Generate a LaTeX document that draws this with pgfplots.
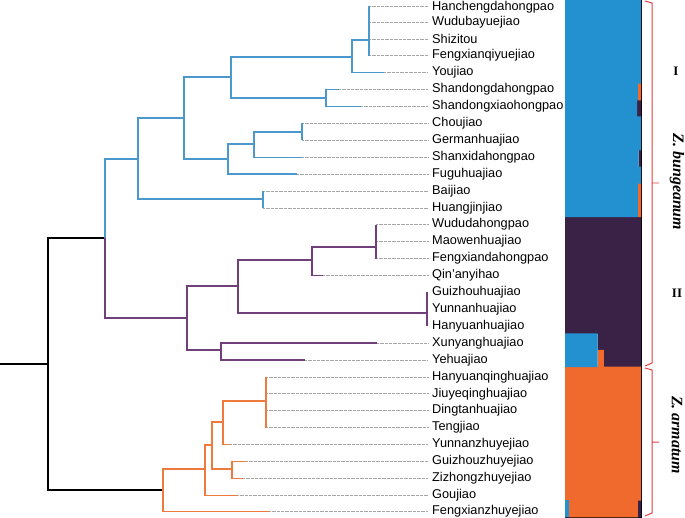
\documentclass[border=0pt]{standalone}
\usepackage{pgfplots}
\usepackage{pgfplotstable}
\pgfplotsset{compat=1.18}
\usepackage{fontspec}
\setmainfont{Liberation Sans}
\newfontfamily\serif{Liberation Serif}
\definecolor{tblue}{RGB}{74,152,204}
\definecolor{tpurple}{RGB}{112,64,122}
\definecolor{torange}{RGB}{238,122,62}
\definecolor{sblue}{RGB}{35,144,208}
\definecolor{spurple}{RGB}{57,34,70}
\definecolor{sorange}{RGB}{240,106,46}
\definecolor{bred}{RGB}{228,60,60}

\pgfplotstableread{
x y label
432 7.4 Hanchengdahongpao
432 21.9 Wudubayuejiao
432 38.8 Shizitou
432 55.7 Fengxianqiyuejiao
432 72.6 Youjiao
432 89.5 Shandongdahongpao
432 106.4 Shandongxiaohongpao
432 123.3 Choujiao
432 140.2 Germanhuajiao
432 157.1 Shanxidahongpao
432 174 Fuguhuajiao
432 190.9 Baijiao
432 207.8 Huangjinjiao
432 224.7 Wududahongpao
432 241.6 Maowenhuajiao
432 258.5 Fengxiandahongpao
432 275.4 Qin'anyihao
432 292.3 Guizhouhuajiao
432 309.2 Yunnanhuajiao
432 326.1 Hanyuanhuajiao
432 343 Xunyanghuajiao
432 359.9 Yehuajiao
432 376.8 Hanyuanqinghuajiao
432 393.7 Jiuyeqinghuajiao
432 410.6 Dingtanhuajiao
432 427.5 Tengjiao
432 444.4 Yunnanzhuyejiao
432 461.3 Guizhouzhuyejiao
432 478.2 Zizhongzhuyejiao
432 495.1 Goujiao
432 510.8 Fengxianzhuyejiao
}\leaves

\pgfplotstableread{
r b o p
0 1 0 0
1 1 0 0
2 1 0 0
3 1 0 0
4 1 0 0
5 0.96 0.04 0
6 0.95 0 0.05
7 1 0 0
8 1 0 0
9 0.97 0 0.03
10 1 0 0
11 0.96 0.04 0
12 0.96 0.04 0
13 0 0 1
14 0 0 1
15 0 0 1
16 0 0 1
17 0 0 1
18 0 0 1
19 0 0 1
20 0.43 0 0.57
21 0.43 0.08 0.49
22 0 1 0
23 0 1 0
24 0 1 0
25 0 1 0
26 0 1 0
27 0 1 0
28 0 1 0
29 0 1 0
30 0.05 0.91 0.04
}\structdata

\begin{document}
\begin{tikzpicture}
\useasboundingbox (0,0) rectangle (685bp,518bp);
\begin{axis}[at={(0,0)}, anchor=south west, width=685bp, height=518bp, scale only axis,
  xmin=0, xmax=685, ymin=0, ymax=518, y dir=reverse, hide axis, clip=false,
  unbounded coords=jump]
% dotted leader lines
\addplot[gray!70, line width=0.5pt, dash pattern=on 0.5pt off 0.8pt] coordinates {
(369,6.5) (428,6.5) (nan,nan)
(369,21.9) (428,21.9) (nan,nan)
(369,38.8) (428,38.8) (nan,nan)
(369,55.7) (428,55.7) (nan,nan)
(384,72.6) (428,72.6) (nan,nan)
(339,89.5) (428,89.5) (nan,nan)
(361,106.4) (428,106.4) (nan,nan)
(302,123.3) (428,123.3) (nan,nan)
(302,140.2) (428,140.2) (nan,nan)
(302,157.1) (428,157.1) (nan,nan)
(297,174) (428,174) (nan,nan)
(263,190.9) (428,190.9) (nan,nan)
(263,207.8) (428,207.8) (nan,nan)
(376,224.7) (428,224.7) (nan,nan)
(376,241.6) (428,241.6) (nan,nan)
(376,258.5) (428,258.5) (nan,nan)
(323,275.4) (428,275.4) (nan,nan)
(377,343) (428,343) (nan,nan)
(305,359.9) (428,359.9) (nan,nan)
(266,376.8) (428,376.8) (nan,nan)
(266,393.7) (428,393.7) (nan,nan)
(266,410.6) (428,410.6) (nan,nan)
(266,427.5) (428,427.5) (nan,nan)
(230,444.4) (428,444.4) (nan,nan)
(246,461.3) (428,461.3) (nan,nan)
(243,478.2) (428,478.2) (nan,nan)
(237,495.1) (428,495.1) (nan,nan)
(269,511.5) (428,511.5)
};
% black root
\addplot[black, line width=1.2pt] coordinates {
(105,238) (48,238) (48,490) (163,490) (nan,nan)
(0,364) (48,364)
};
% blue clade
\addplot[tblue, line width=1.2pt] coordinates {
(369,6.5) (369,55.7) (nan,nan)
(369,40) (352,40) (352,72.6) (384,72.6) (nan,nan)
(339,89.5) (326,89.5) (326,106.4) (361,106.4) (nan,nan)
(352,57) (231,57) (231,98) (326,98) (nan,nan)
(302,123.3) (302,140.2) (nan,nan)
(302,132) (254,132) (254,157.1) (302,157.1) (nan,nan)
(254,144) (228,144) (228,174) (297,174) (nan,nan)
(231,77) (184,77) (184,159) (228,159) (nan,nan)
(263,190.9) (263,207.8) (nan,nan)
(184,118) (138,118) (138,199) (263,199) (nan,nan)
(138,159) (105,159) (105,238)
};
% purple clade
\addplot[tpurple, line width=1.2pt] coordinates {
(376,224.7) (376,258.5) (nan,nan)
(376,247) (312,247) (312,275.4) (323,275.4) (nan,nan)
(427,292.3) (427,326.1) (nan,nan)
(312,260) (238,260) (238,313) (427,313) (nan,nan)
(377,343) (221,343) (221,359.9) (305,359.9) (nan,nan)
(238,286) (187,286) (187,350) (221,350) (nan,nan)
(105,238) (105,318) (187,318)
};
% orange clade
\addplot[torange, line width=1.2pt] coordinates {
(266,376.8) (266,427.5) (nan,nan)
(266,401) (223,401) (223,444.4) (230,444.4) (nan,nan)
(246,461.3) (232,461.3) (232,478.2) (243,478.2) (nan,nan)
(223,422) (212,422) (212,469) (232,469) (nan,nan)
(212,445) (205,445) (205,495.1) (237,495.1) (nan,nan)
(205,469) (163,469) (163,511.5) (269,511.5)
};
% leaf labels
\addplot[draw=none, nodes near coords, point meta=explicit symbolic,
  nodes near coords style={anchor=west, inner sep=0pt, text=black,
  font=\fontsize{12.8}{14}\selectfont}] table[x=x, y=y, meta=label] {\leaves};
% brackets
\addplot[bred, line width=1pt] coordinates {
(645,1) (652,3) (652,363) (645,366) (nan,nan)
(652,183) (659,183) (nan,nan)
(645,368) (652,370) (652,513) (645,516) (nan,nan)
(652,442) (659,442)
};
\node[font=\serif\bfseries\fontsize{13}{15}\selectfont] at (axis cs:676,71) {I};
\node[font=\serif\bfseries\fontsize{13}{15}\selectfont] at (axis cs:677,293) {II};
\node[rotate=-90, font=\serif\bfseries\itshape\fontsize{16}{18}\selectfont] at (axis cs:677,182) {Z. bungeanum};
\node[rotate=-90, font=\serif\bfseries\itshape\fontsize{16}{18}\selectfont] at (axis cs:677,435) {Z. armatum};
\end{axis}

\begin{axis}[at={(565bp,1bp)}, anchor=south west, width=76bp, height=517bp, scale only axis,
  xmin=0, xmax=1, ymin=-0.5, ymax=30.5, y dir=reverse, hide axis, clip=false,
  xbar stacked, bar width=1.03]
\addplot[fill=sblue, draw=none] table[x=b, y=r] {\structdata};
\addplot[fill=sorange, draw=none] table[x=o, y=r] {\structdata};
\addplot[fill=spurple, draw=none] table[x=p, y=r] {\structdata};
\draw[black, line width=1pt] (axis cs:1,-0.5) -- (axis cs:1,30.5) -- (axis cs:0,30.5);
\end{axis}
\end{tikzpicture}
\end{document}
